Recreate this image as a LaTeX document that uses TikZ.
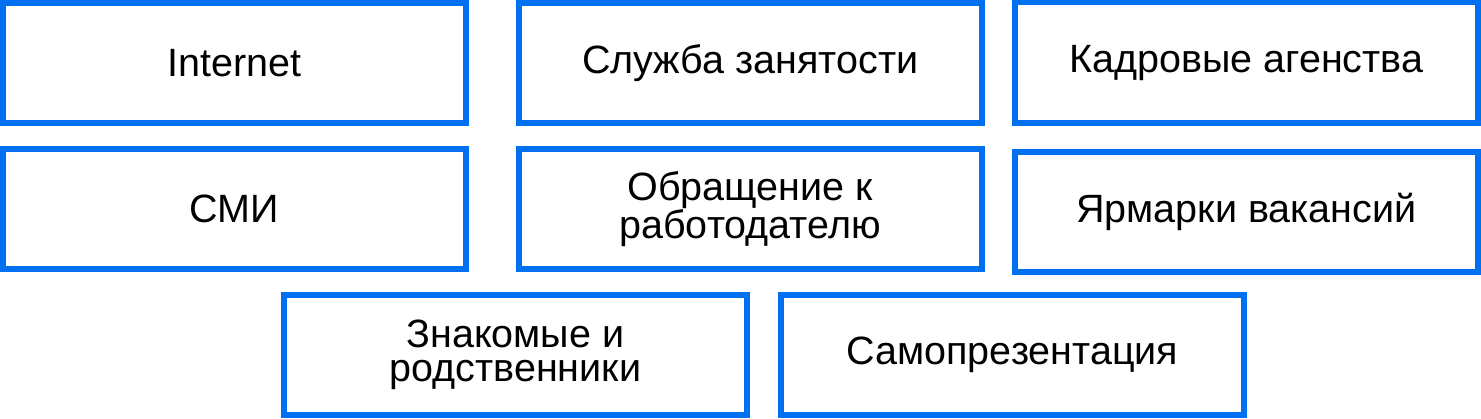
\documentclass[tikz,border=0pt]{standalone}
\usepackage{fontspec}
\setmainfont{Liberation Sans}
\definecolor{boxblue}{RGB}{0,112,240}
\tikzset{
  itembox/.style={draw=boxblue, line width=5.8pt, minimum width=463pt, minimum height=120.2pt,
    inner sep=0pt, align=center, font=\fontsize{39.5}{34}\selectfont, text=black}
}
\begin{document}
\begin{tikzpicture}[x=1pt,y=-1pt]
\useasboundingbox (0,0) rectangle (1481,418);
\node[itembox] (b1) at (234.35,63) {Internet};
\node[itembox] (b2) at (750.2,63) {Служба занятости};
\node[itembox] (b3) at (1246.4,62.6) {Кадровые агенства};
\node[itembox] (b4) at (234.35,209) {СМИ};
\node[itembox] (b5) at (750.2,209) {Обращение к\\работодателю};
\node[itembox] (b6) at (1246.4,211.8) {Ярмарки вакансий};
\node[itembox] (b7) at (515.4,355) {Знакомые и\\родственники};
\node[itembox] (b8) at (1012.3,355) {Самопрезентация};
\end{tikzpicture}
\end{document}
